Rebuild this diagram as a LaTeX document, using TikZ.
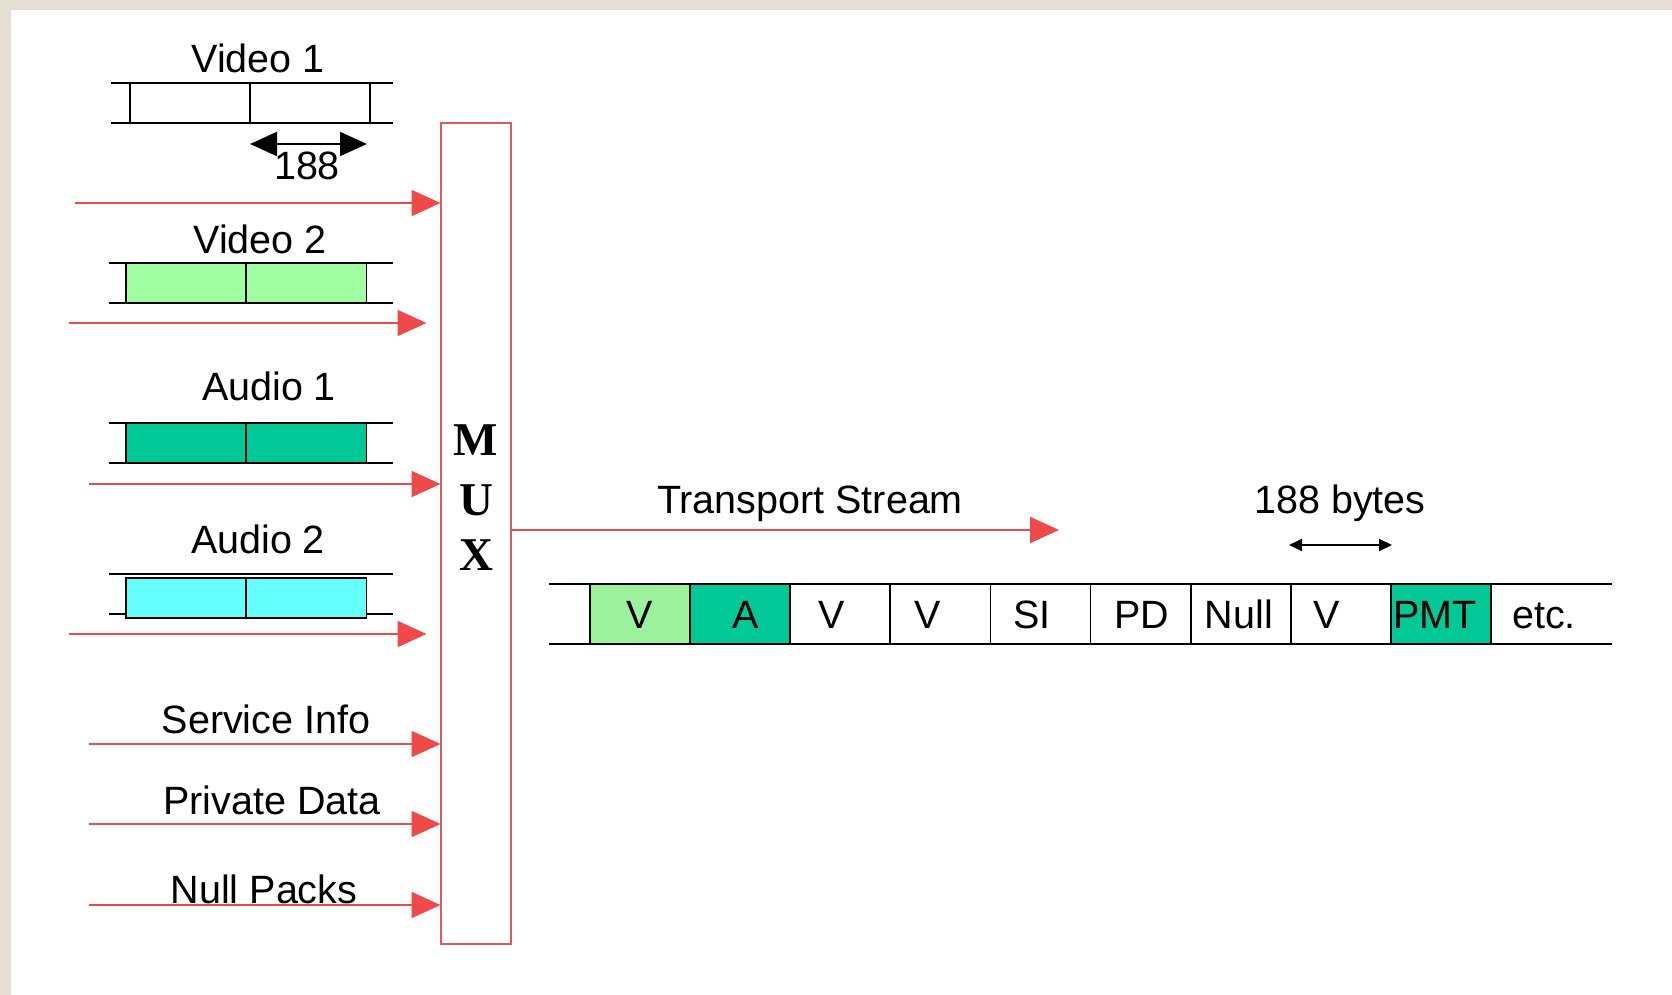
\documentclass[tikz,border=0pt]{standalone}
\usepackage{fontspec}
\setmainfont{Liberation Sans}
\newfontfamily\muxfont{Liberation Serif}
\usetikzlibrary{arrows.meta}
\definecolor{bgbeige}{HTML}{E6DED0}
\definecolor{arrred}{HTML}{EE4A4A}
\definecolor{boxred}{HTML}{DC5C5C}
\definecolor{lgreen}{HTML}{A0FFA0}
\definecolor{sgreen}{HTML}{9CF29C}
\definecolor{audgreen}{HTML}{00C896}
\definecolor{acyan}{HTML}{66FFFF}
\begin{document}
\begin{tikzpicture}[x=1pt,y=-1pt,
  lbl/.style={font=\fontsize{39.5}{44}\selectfont, inner sep=0pt, anchor=base},
  muxtxt/.style={font=\muxfont\bfseries\fontsize{47}{52}\selectfont, inner sep=0pt, anchor=base},
  cell/.style={draw=black, line width=1.8pt, minimum height=40pt, minimum width=120pt, inner sep=0pt, outer sep=0pt},
  scell/.style={draw=black, line width=1.8pt, minimum height=60pt, minimum width=100.1pt, inner sep=0pt, outer sep=0pt},
  rail/.style={draw=black, line width=1.8pt},
  feed/.style={draw=arrred, line width=2pt, -{Triangle[length=29pt,width=26pt,color=arrred]}},
  dim/.style={draw=black, line width=2pt, {Triangle[length=27pt,width=24pt]}-{Triangle[length=27pt,width=24pt]}},
  smalldim/.style={draw=black, line width=2pt, {Triangle[length=13pt,width=12pt]}-{Triangle[length=13pt,width=12pt]}}
]
\useasboundingbox (0,0) rectangle (1672,995);
\fill[bgbeige] (0,0) rectangle (1672,995);
\fill[white] (11,10) rectangle (1672,995);

% MUX
\node[draw=boxred, line width=2pt, minimum width=70pt, minimum height=821pt, inner sep=0pt, outer sep=0pt] (mux) at (475.5,533.5) {};
\node[muxtxt] (muxM) at (476,455) {M};
\node[muxtxt] (muxU) at (476,515) {U};
\node[muxtxt] (muxX) at (476,570) {X};

% Video 1
\node[lbl] (v1lbl) at (258,73) {Video 1};
\coordinate (v1a) at (111,82.7); \coordinate (v1b) at (393,82.7);
\coordinate (v1c) at (111,122.7); \coordinate (v1d) at (393,122.7);
\draw[rail] (v1a) -- (v1b); \draw[rail] (v1c) -- (v1d);
\node[cell] (v1p1) at (190,102.7) {};
\node[cell] (v1p2) at (310,102.7) {};
\coordinate (d1l) at (250,144); \coordinate (d1r) at (367,144);
\draw[dim] (d1l) -- (d1r);
\node[lbl] (l188) at (307,180) {188};

% feed 1
\coordinate (f1) at (75,203);
\draw[feed] (f1) -- (f1 -| mux.west);

% Video 2
\node[lbl] (v2lbl) at (260,253) {Video 2};
\coordinate (v2a) at (109,263); \coordinate (v2b) at (393,263);
\coordinate (v2c) at (109,303); \coordinate (v2d) at (393,303);
\draw[rail] (v2a) -- (v2b); \draw[rail] (v2c) -- (v2d);
\node[cell, fill=lgreen] (v2p1) at (186,283) {};
\node[cell, fill=lgreen] (v2p2) at (306.5,283) {};

\coordinate (f2) at (69,323);
\draw[feed, shorten >=14pt] (f2) -- (f2 -| mux.west);

% Audio 1
\node[lbl] (a1lbl) at (269,400) {Audio 1};
\coordinate (a1a) at (109,423); \coordinate (a1b) at (393,423);
\coordinate (a1c) at (109,463); \coordinate (a1d) at (393,463);
\draw[rail] (a1a) -- (a1b); \draw[rail] (a1c) -- (a1d);
\node[cell, fill=audgreen] (a1p1) at (186,443) {};
\node[cell, fill=audgreen] (a1p2) at (306.5,443) {};

\coordinate (f3) at (89,484);
\draw[feed] (f3) -- (f3 -| mux.west);

% Audio 2
\node[lbl] (a2lbl) at (258,553) {Audio 2};
\coordinate (a2a) at (109,574); \coordinate (a2b) at (393,574);
\coordinate (a2c) at (109,614); \coordinate (a2d) at (393,614);
\draw[rail] (a2a) -- (a2b); \draw[rail] (a2c) -- (a2d);
\node[cell, fill=acyan] (a2p1) at (186,598) {};
\node[cell, fill=acyan] (a2p2) at (306.5,598) {};

\coordinate (f4) at (69,634);
\draw[feed, shorten >=14pt] (f4) -- (f4 -| mux.west);

% Service info, private data, null packs
\node[lbl] (silbl) at (266,733) {Service Info};
\coordinate (f5) at (89,744);
\draw[feed] (f5) -- (f5 -| mux.west);
\node[lbl] (pdlbl) at (272,814) {Private Data};
\coordinate (f6) at (89,824);
\draw[feed] (f6) -- (f6 -| mux.west);
\coordinate (f7) at (89,905);
\draw[feed] (f7) -- (f7 -| mux.west);
\node[lbl] (nplbl) at (264,903) {Null Packs};

% Transport stream
\node[lbl] (tslbl) at (810,513) {Transport Stream};
\coordinate (tsend) at (1059,530);
\draw[feed] (mux.east |- tsend) -- (tsend);

\node[lbl] (bylbl) at (1340,513) {188 bytes};
\coordinate (d2l) at (1289,545); \coordinate (d2r) at (1392,545);
\draw[smalldim] (d2l) -- (d2r);

\coordinate (sa) at (549,584); \coordinate (sb) at (1612,584);
\coordinate (sc) at (549,644); \coordinate (sd) at (1612,644);
\draw[rail] (sa) -- (sb); \draw[rail] (sc) -- (sd);
\node[scell, fill=sgreen] (s1) at (640.05,614) {};
\node[scell, fill=audgreen] (s2) at (740.15,614) {};
\node[scell] (s3) at (840.25,614) {};
\node[scell] (s4) at (940.35,614) {};
\node[scell] (s5) at (1040.45,614) {};
\node[scell] (s6) at (1140.55,614) {};
\node[scell] (s7) at (1240.65,614) {};
\node[scell] (s8) at (1340.75,614) {};
\node[scell, fill=audgreen] (s9) at (1440.85,614) {};

\node[lbl] (t1) at (640,628) {V};
\node[lbl] (t2) at (746,628) {A};
\node[lbl] (t3) at (832,628) {V};
\node[lbl] (t4) at (928,628) {V};
\node[lbl] (t5) at (1032,628) {SI};
\node[lbl] (t6) at (1142,628) {PD};
\node[lbl] (t7) at (1239,628) {Null};
\node[lbl] (t8) at (1327,628) {V};
\node[lbl] (t9) at (1435,628) {PMT};
\node[lbl] (t10) at (1544,628) {etc.};
\end{tikzpicture}
\end{document}
